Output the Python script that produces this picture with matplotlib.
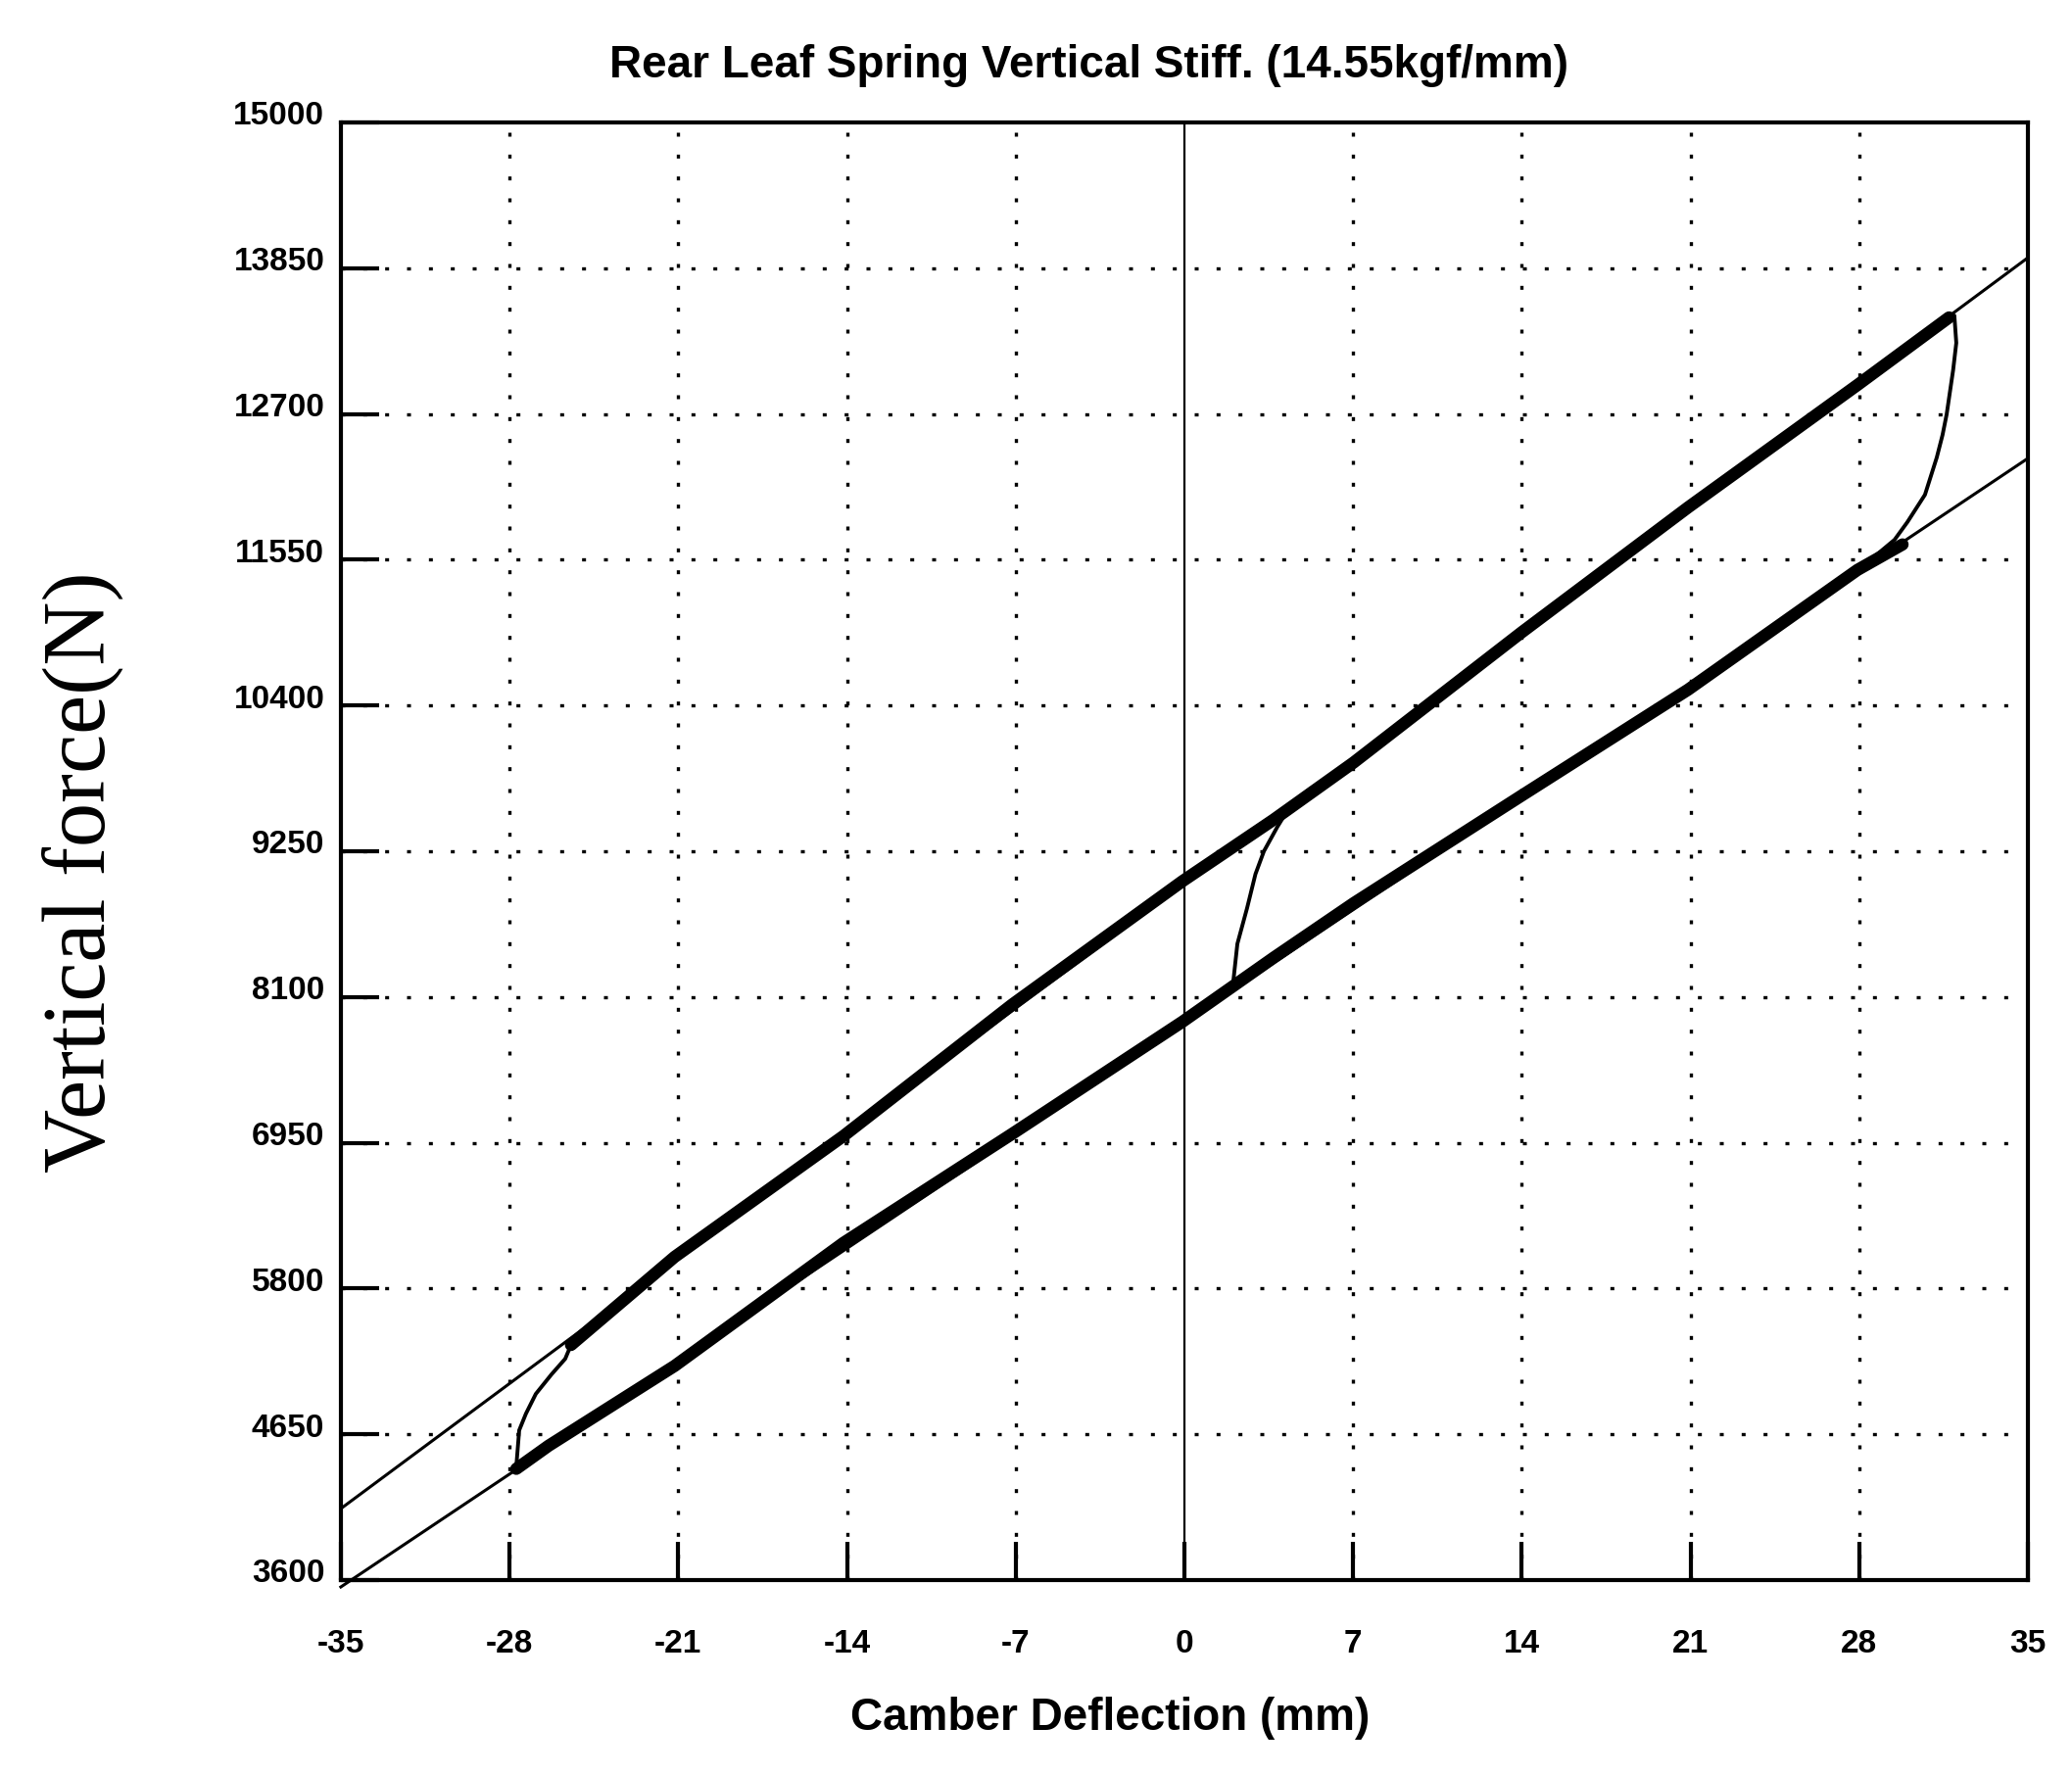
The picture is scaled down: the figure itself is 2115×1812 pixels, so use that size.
import matplotlib
matplotlib.use('Agg')
import matplotlib.pyplot as plt
from matplotlib import font_manager
from matplotlib.transforms import ScaledTranslation


def pick_font(*names):
    have = {f.name for f in font_manager.fontManager.ttflist}
    for name in names:
        if name in have:
            return name
    return 'DejaVu Sans'


SANS = pick_font('Liberation Sans Narrow', 'Liberation Sans', 'Arial')
SERIF = pick_font('Liberation Serif', 'DejaVu Serif')

# axis ticks (labels as printed on the original scan)
x_ticks = [-35, -28, -21, -14, -7, 0, 7, 14, 21, 28, 35]
x_tick_labels = ['-35', '-28', '-21', '-14', '-7', '0', '7', '14', '21', '28', '35']
y_ticks = [3500, 4650, 5800, 6950, 8100, 9250, 10400, 11550, 12700, 13850, 15000]
y_tick_labels = ['3600', '4650', '5800', '6950', '8100', '9250', '10400', '11550', '12700', '13850', '15000']

# straight reference lines (thin)
fit_upper_x = [-35, 35]
fit_upper_y = [4064, 13933]
fit_lower_x = [-35, 35]
fit_lower_y = [3446, 12350]

# measured loading branch (thick band)
upper_x = [-25.45, -21.15, -14.15, -7.15, -0.08, 3.7, 7.02, 14.0, 20.9, 27.93, 31.73]
upper_y = [5355, 6050, 7003, 8040, 9014, 9499, 9950, 10978, 11963, 12929, 13462]

# measured unloading branch (thick band)
lower_x = [-27.72, -26.38, -21.15, -14.15, -7.15, -0.08, 3.7, 7.02, 14.0, 20.9, 27.93, 29.8]
lower_y = [4378, 4560, 5190, 6160, 7020, 7905, 8410, 8840, 9690, 10525, 11470, 11671]

# reversal curves
left_rev_x = [-27.72, -27.6, -27.32, -26.91, -26.26, -25.69, -25.45]
left_rev_y = [4397, 4682, 4813, 4969, 5123, 5246, 5355]
mid_rev_x = [2.0, 2.2, 2.6, 2.95, 3.3, 3.85, 4.4, 5.2]
mid_rev_y = [8170, 8520, 8800, 9070, 9250, 9440, 9610, 9740]
right_rev_x = [31.73, 31.95, 32.03, 31.9, 31.63, 31.46, 31.22, 30.73, 30.0, 29.47, 28.74]
right_rev_y = [13462, 13477, 13261, 13048, 12697, 12535, 12357, 12063, 11847, 11708, 11592]

fig = plt.figure(figsize=(21.15, 18.12), dpi=100)
ax = fig.add_axes([0.1645, 0.1098, 0.8142, 0.8212])

ax.set_xlim(-35, 35)
ax.set_ylim(3500, 15000)

# grid: dotted except the zero line
for xv in x_ticks:
    if xv == 0:
        ax.axvline(xv, color='black', lw=1.6, zorder=1)
    elif -35 < xv < 35:
        ax.axvline(xv, color='black', lw=2.4, dashes=(1.2, 5.5), zorder=1)
for yv in y_ticks[1:-1]:
    ax.axhline(yv, color='black', lw=2.4, dashes=(1.2, 5.5), zorder=1)

ax.plot(fit_upper_x, fit_upper_y, color='black', lw=2.2, zorder=2)
ax.plot(fit_lower_x, fit_lower_y, color='black', lw=2.2, zorder=2, clip_on=False)

ax.plot(upper_x, upper_y, color='black', lw=9, solid_capstyle='round', zorder=3)
ax.plot(lower_x, lower_y, color='black', lw=9, solid_capstyle='round', zorder=3)

for rx, ry in ((left_rev_x, left_rev_y), (mid_rev_x, mid_rev_y), (right_rev_x, right_rev_y)):
    ax.plot(rx, ry, color='black', lw=2.8, zorder=3)

for side in ('left', 'bottom', 'top', 'right'):
    ax.spines[side].set_linewidth(3)

ax.set_xticks(x_ticks)
ax.set_xticklabels(x_tick_labels)
ax.set_yticks(y_ticks)
ax.set_yticklabels(y_tick_labels)
ax.tick_params(axis='both', direction='in', length=28, width=3, colors='black')
ax.tick_params(axis='x', pad=36)
ax.tick_params(axis='y', pad=12)

for lab in ax.get_xticklabels() + ax.get_yticklabels():
    lab.set_fontfamily(SANS)
    lab.set_fontweight('bold')
    lab.set_fontsize(24)

shift = ScaledTranslation(0, 7 / 72, fig.dpi_scale_trans)
for lab in ax.get_yticklabels():
    lab.set_transform(lab.get_transform() + shift)

fig.text(0.5253, 0.963, 'Rear Leaf Spring Vertical Stiff. (14.55kgf/mm)',
         ha='center', va='center', fontsize=33, fontweight='bold', family=SANS)
fig.text(0.5357, 0.032, 'Camber Deflection (mm)',
         ha='center', va='center', fontsize=33, fontweight='bold', family=SANS)
fig.text(0.0397, 0.509, 'Vertical force(N)', rotation=90,
         ha='center', va='center', fontsize=65, family=SERIF)

fig.savefig('out.png', dpi=100, facecolor='white')
plt.close(fig)
